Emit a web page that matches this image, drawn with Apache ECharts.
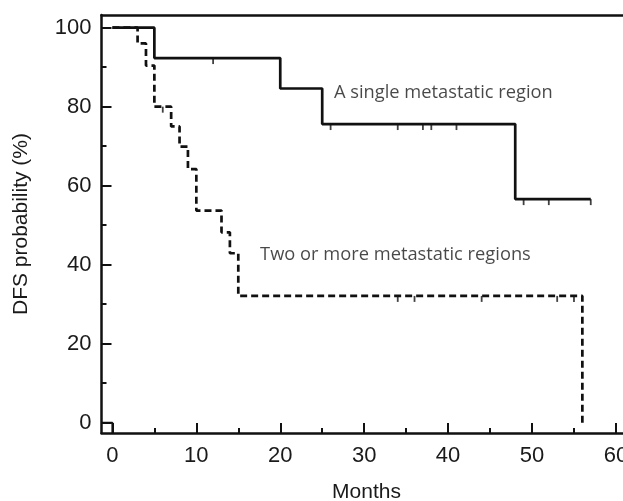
<!DOCTYPE html>
<html>
<head>
<meta charset="utf-8">
<script src="https://cdn.jsdelivr.net/npm/echarts@6/dist/echarts.min.js"></script>
<style>html,body{margin:0;padding:0;background:#fff}#c{width:623px;height:501px}</style>
</head>
<body>
<div id="c"></div>
<script>
// Kaplan-Meier step data (months, DFS %)
var singleTimes = [0, 5, 20, 25, 48, 57];
var singleValues = [100, 92.3, 84.6, 75.6, 56.6, 56.6];
var singleCensorTimes = [12, 26, 34, 37, 38, 41, 49, 52, 57];
var singleCensorValues = [92.3, 75.6, 75.6, 75.6, 75.6, 75.6, 56.6, 56.6, 56.6];

var multiTimes = [0, 3, 4, 5, 7, 8, 9, 10, 13, 14, 15, 56, 56];
var multiValues = [100, 96, 90.4, 80, 75, 69.9, 64.2, 53.7, 48.2, 42.9, 32.1, 32.1, 0];
var multiCensorTimes = [6, 34, 36, 44, 53, 55];
var multiCensorValues = [80, 32.1, 32.1, 32.1, 32.1, 32.1];

var cornerTimes = [-1.3, 0, 0];
var cornerValues = [0, 0, -2.6];

var xMajorTicks = [0, 10, 20, 30, 40, 50, 60];
var xMinorTicks = [5, 15, 25, 35, 45, 55];
var yMajorTicks = [0, 20, 40, 60, 80, 100];
var yMinorTicks = [10, 30, 50, 70, 90];

var labelSingle = 'A single metastatic region';
var labelMulti = 'Two or more metastatic regions';

function zip(a, b) { return a.map(function (v, i) { return [v, b[i]]; }); }

var FONT = '"Liberation Sans", Arial, sans-serif';
var X_MIN = -1.3, X_MAX = 64, Y_MIN = -2.6, Y_MAX = 103.2;

var chart = echarts.init(document.getElementById('c'), null, {renderer: 'canvas'});
var axisLineStyle = {color: '#111', width: 2.5};
chart.setOption({
  animation: false,
  backgroundColor: '#fff',
  grid: {left: 101.5, top: 15, width: 548, height: 418, containLabel: false, outerBoundsMode: 'none'},
  xAxis: [
    {
      type: 'value', min: X_MIN, max: X_MAX, position: 'bottom',
      name: 'Months', nameLocation: 'middle', nameGap: 49,
      nameTextStyle: {fontFamily: FONT, fontSize: 21, color: '#1a1a1a', padding: [0, 18, 0, 0]},
      axisLine: {show: true, onZero: false, lineStyle: axisLineStyle},
      axisTick: {show: true, inside: true, length: 10, lineStyle: {color: '#111', width: 2}, customValues: xMajorTicks},
      axisLabel: {show: true, margin: 12, fontFamily: FONT, fontSize: 22, color: '#1a1a1a', customValues: xMajorTicks},
      splitLine: {show: false}
    },
    {
      type: 'value', min: X_MIN, max: X_MAX, position: 'bottom',
      axisLine: {show: false, onZero: false},
      axisTick: {show: true, inside: true, length: 5, lineStyle: {color: '#111', width: 2}, customValues: xMinorTicks},
      axisLabel: {show: false},
      splitLine: {show: false}
    },
    {
      type: 'value', min: X_MIN, max: X_MAX, position: 'top',
      axisLine: {show: true, onZero: false, lineStyle: axisLineStyle},
      axisTick: {show: false}, axisLabel: {show: false}, splitLine: {show: false}
    }
  ],
  yAxis: [
    {
      type: 'value', min: Y_MIN, max: Y_MAX, position: 'left',
      name: 'DFS probability (%)', nameLocation: 'middle', nameGap: 70,
      nameTextStyle: {fontFamily: FONT, fontSize: 21, color: '#1a1a1a'},
      axisLine: {show: true, onZero: false, lineStyle: axisLineStyle},
      axisTick: {show: true, inside: true, length: 10, lineStyle: {color: '#111', width: 2}, customValues: yMajorTicks},
      axisLabel: {show: true, margin: 10, fontFamily: FONT, fontSize: 22, color: '#1a1a1a', customValues: yMajorTicks},
      splitLine: {show: false}
    },
    {
      type: 'value', min: Y_MIN, max: Y_MAX, position: 'left',
      axisLine: {show: false, onZero: false},
      axisTick: {show: true, inside: true, length: 5, lineStyle: {color: '#111', width: 2}, customValues: yMinorTicks},
      axisLabel: {show: false}, splitLine: {show: false}
    }
  ],
  series: [
    {
      type: 'line', step: 'end', data: zip(singleTimes, singleValues),
      showSymbol: false, symbol: 'none', lineStyle: {color: '#111', width: 2.7}, z: 3
    },
    {
      type: 'line', step: 'end', data: zip(multiTimes, multiValues),
      showSymbol: false, symbol: 'none', lineStyle: {color: '#111', width: 2.7, type: [7, 4]}, z: 3
    },
    {
      type: 'line', data: zip(cornerTimes, cornerValues),
      showSymbol: false, symbol: 'none', lineStyle: {color: '#111', width: 2}, z: 3
    },
    {
      type: 'scatter', data: zip(singleCensorTimes, singleCensorValues),
      symbol: 'rect', symbolSize: [1.8, 6], symbolOffset: [0, 3],
      itemStyle: {color: '#111'}, z: 4
    },
    {
      type: 'scatter', data: zip(multiCensorTimes, multiCensorValues),
      symbol: 'rect', symbolSize: [1.8, 6], symbolOffset: [0, 3],
      itemStyle: {color: '#111'}, z: 4
    },
    {
      type: 'scatter', symbolSize: 0, silent: true,
      data: [
        {value: [26.4, 83.5], label: {formatter: labelSingle}},
        {value: [17.6, 42.5], label: {formatter: labelMulti}}
      ],
      label: {show: true, position: 'right', distance: 0, fontFamily: '"Open Sans", Lato, sans-serif', fontSize: 18.3, color: '#1a1a1a'}
    }
  ]
});
</script>
</body>
</html>
